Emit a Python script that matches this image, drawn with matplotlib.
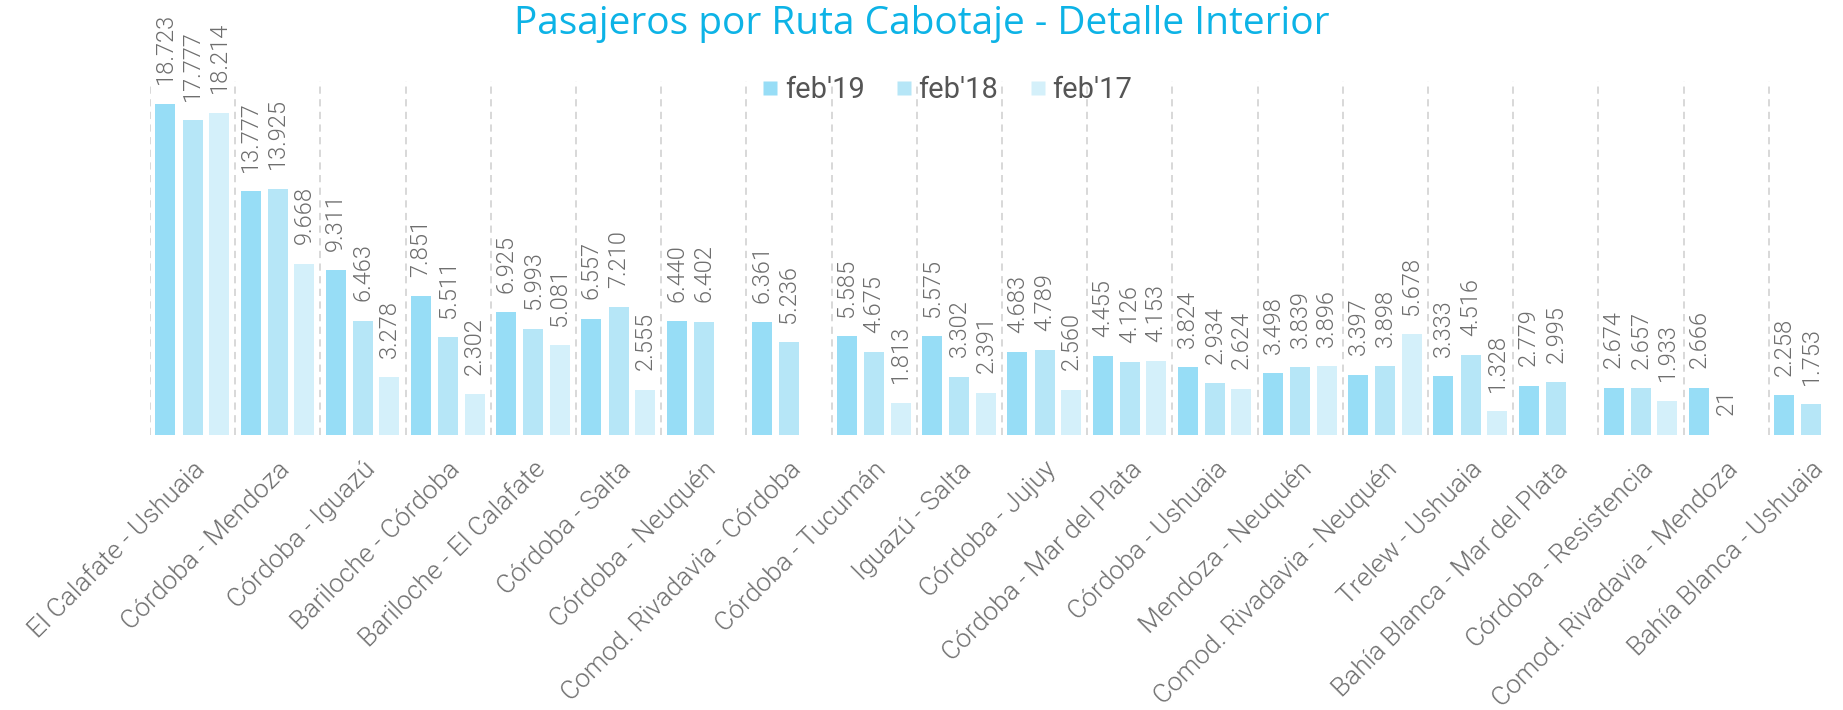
import numpy as np
import matplotlib
matplotlib.use("Agg")
import matplotlib.pyplot as plt
from matplotlib.lines import Line2D

categories = ["El Calafate - Ushuaia", "Córdoba - Mendoza", "Córdoba - Iguazú",
              "Bariloche - Córdoba", "Bariloche - El Calafate", "Córdoba - Salta",
              "Córdoba - Neuquén", "Comod. Rivadavia - Córdoba", "Córdoba - Tucumán",
              "Iguazú - Salta", "Córdoba - Jujuy", "Córdoba - Mar del Plata",
              "Córdoba - Ushuaia", "Mendoza - Neuquén", "Comod. Rivadavia - Neuquén",
              "Trelew - Ushuaia", "Bahía Blanca - Mar del Plata", "Córdoba - Resistencia",
              "Comod. Rivadavia - Mendoza", "Bahía Blanca - Ushuaia"]

series_names = ["feb'19", "feb'18", "feb'17"]
feb19 = [18723, 13777, 9311, 7851, 6925, 6557, 6440, 6361, 5585, 5575,
         4683, 4455, 3824, 3498, 3397, 3333, 2779, 2674, 2666, 2258]
feb18 = [17777, 13925, 6463, 5511, 5993, 7210, 6402, 5236, 4675, 3302,
         4789, 4126, 2934, 3839, 3898, 4516, 2995, 2657, 21, 1753]
feb17 = [18214, 9668, 3278, 2302, 5081, 2555, None, None, 1813, 2391,
         2560, 4153, 2624, 3896, 5678, 1328, None, 1933, None, None]

colors = ["#97DDF6", "#B6E6F7", "#D4F0FA"]
title = "Pasajeros por Ruta Cabotaje - Detalle Interior"

W, H = 1843, 710
fig = plt.figure(figsize=(W / 100, H / 100), dpi=100)
ax = fig.add_axes([150 / W, 1 - 435 / H, 1704 / W, (435 - 81) / H])

x = np.arange(len(categories))
offsets = [-0.32, 0.0, 0.31]
bw = 0.235
label_font = dict(family=["Roboto", "DejaVu Sans"], fontweight=300)

for vals, off, col in zip([feb19, feb18, feb17], offsets, colors):
    arr = np.array([np.nan if v is None else v for v in vals], dtype=float)
    ax.bar(x + off, arr, width=bw, color=col, edgecolor="none", zorder=2)
    for xi, v in zip(x, vals):
        if v is None:
            continue
        ax.annotate(f"{v:,}".replace(",", "."), (xi + off, v), xytext=(0, 14),
                    textcoords="offset points", rotation=90, ha="center",
                    va="bottom", fontsize=17, color="#6e6e6e",
                    annotation_clip=False, **label_font)

for i in range(len(categories)):
    ax.axvline(i - 0.5, color="#d6d6d6", lw=1.3, ls=(0, (4, 3)), zorder=1)

ax.set_xlim(-0.5, len(categories) - 0.5)
ax.set_ylim(0, 20000)
ax.set_yticks([])
ax.set_xticks(x)
ax.set_xticklabels(categories, rotation=45, ha="right", rotation_mode="anchor",
                   fontsize=19, color="#6e6e6e", **label_font)
ax.tick_params(axis="x", length=0, pad=16)
for s in ax.spines.values():
    s.set_visible(False)

fig.text(0.5, 1 - 24 / H, title, ha="center", va="center", fontsize=28,
         color="#0DB3E6", family=["Open Sans", "DejaVu Sans"])

handles = [Line2D([0], [0], marker="s", ls="none", markersize=10,
                  markerfacecolor=c, markeredgecolor="none") for c in colors]
leg = fig.legend(handles, series_names, loc="center", bbox_to_anchor=(946 / W, 1 - 90 / H),
                 ncol=3, frameon=False, fontsize=21, handletextpad=0.15,
                 columnspacing=1.0, handlelength=0.7)
for t in leg.get_texts():
    t.set_color("#555555")
    t.set_family(["Roboto", "DejaVu Sans"])

fig.savefig("out.png", dpi=100)
